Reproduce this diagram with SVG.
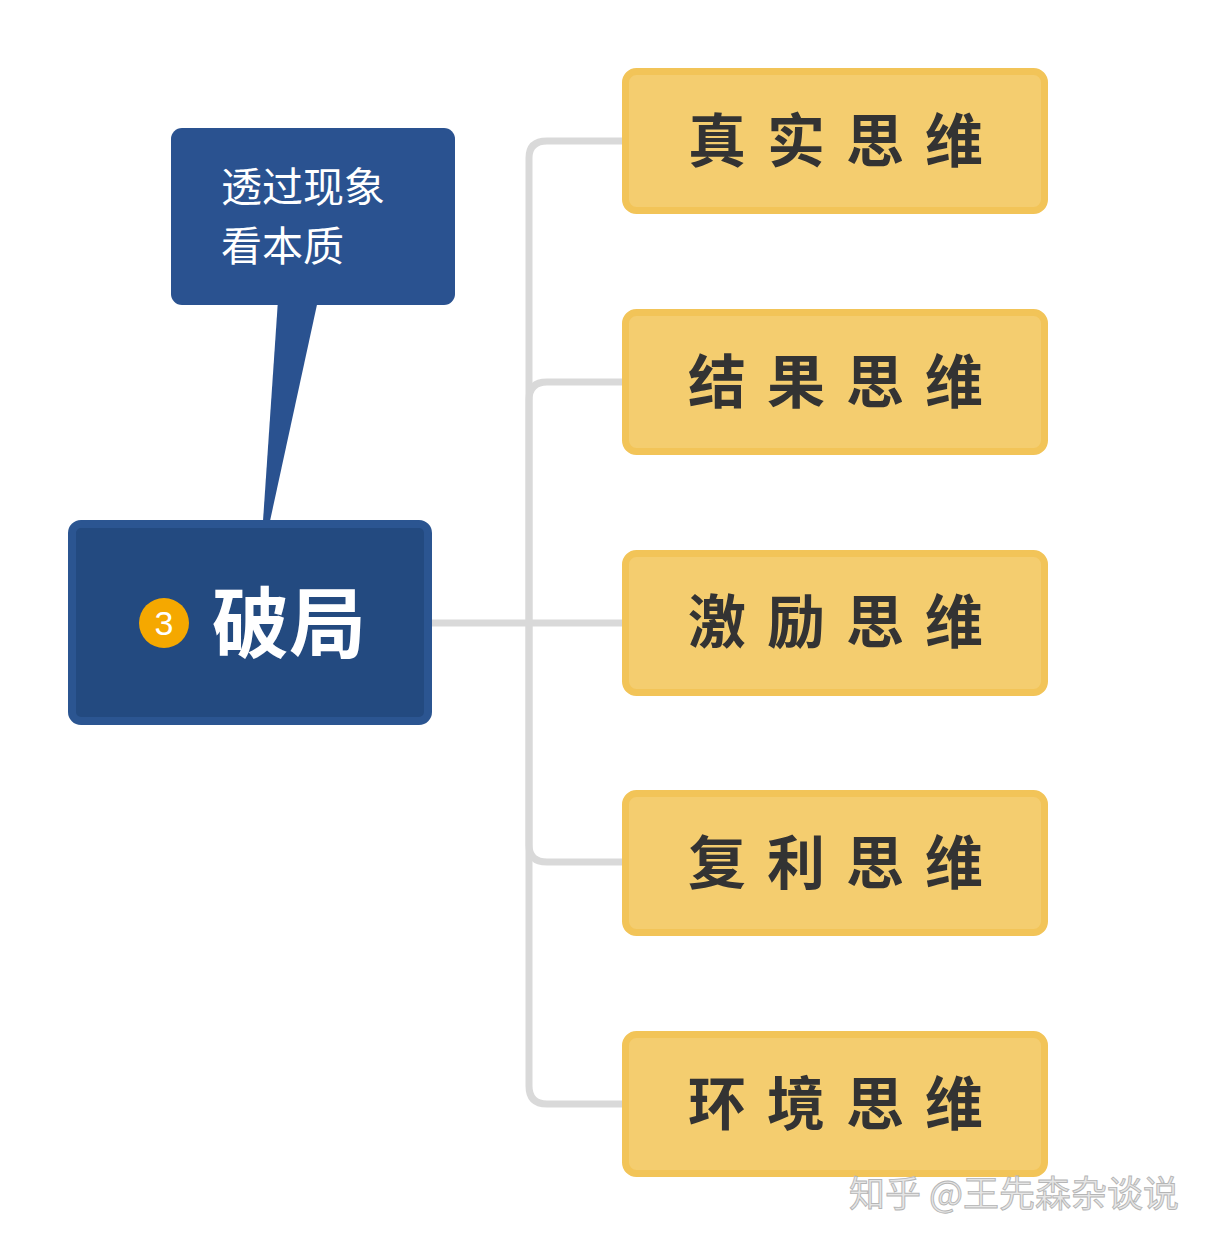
<svg xmlns="http://www.w3.org/2000/svg" width="1209" height="1244" viewBox="0 0 1209 1244">
<style>
.conn{fill:none;stroke:#d9d9d9;stroke-width:7;stroke-linecap:butt}
.yb{fill:#f4cd6f;stroke:#f2c458;stroke-width:7}
.yt{font-family:"Noto Sans CJK SC","Noto Sans CJK JP",sans-serif;font-weight:700;font-size:58px;fill:#333333;letter-spacing:21px}
.ct{font-family:"Noto Sans CJK SC","Noto Sans CJK JP",sans-serif;font-size:41px;fill:#ffffff}
.rt{font-family:"Noto Sans CJK SC","Noto Sans CJK JP",sans-serif;font-weight:700;font-size:77px;fill:#ffffff}
.wm{font-family:"Noto Sans CJK SC","Noto Sans CJK JP",sans-serif;font-size:36px;fill:#e6e6e6;stroke:#b5b5b5;stroke-width:0.9}
</style>
<rect width="1209" height="1244" fill="#ffffff"/>
<g id="connectors">
<path class="conn" d="M432,623 H622"/>
<path class="conn" d="M529,623 V158 Q529,141 547,141 H622"/>
<path class="conn" d="M529,623 V400 Q529,382 547,382 H622"/>
<path class="conn" d="M529,623 V845 Q529,862 547,862 H622"/>
<path class="conn" d="M529,623 V1086 Q529,1104 547,1104 H622"/>
</g>
<g id="callout">
<path d="M278,300 L318,300 L270,521 L263,521 Z" fill="#2a5290"/>
<rect x="171" y="128" width="284" height="177" rx="11" fill="#2a5290"/>
<text class="ct" x="221" y="202">透过现象</text>
<text class="ct" x="221" y="261">看本质</text>
</g>
<g id="root">
<rect x="72" y="524" width="356" height="197" rx="9" fill="#234a80" stroke="#2b5591" stroke-width="8"/>
<circle cx="164" cy="623" r="25" fill="#f5a800"/>
<text x="164" y="635" text-anchor="middle" font-family="'Liberation Sans',Arial,sans-serif" font-size="34" fill="#ffffff">3</text>
<text class="rt" x="212" y="652">破局</text>
</g>
<g id="n1">
<rect class="yb" x="625.500" y="71.500" width="419" height="139" rx="11"/>
<text class="yt" x="688" y="162">真实思维</text>
</g>
<g id="n2">
<rect class="yb" x="625.500" y="312.500" width="419" height="139" rx="11"/>
<text class="yt" x="688" y="403">结果思维</text>
</g>
<g id="n3">
<rect class="yb" x="625.500" y="553.500" width="419" height="139" rx="11"/>
<text class="yt" x="688" y="643">激励思维</text>
</g>
<g id="n4">
<rect class="yb" x="625.500" y="793.500" width="419" height="139" rx="11"/>
<text class="yt" x="688" y="884">复利思维</text>
</g>
<g id="n5">
<rect class="yb" x="625.500" y="1034.500" width="419" height="139" rx="11"/>
<text class="yt" x="688" y="1125">环境思维</text>
</g>
<text class="wm" x="849" y="1207">知乎 @王先森杂谈说</text>
</svg>
